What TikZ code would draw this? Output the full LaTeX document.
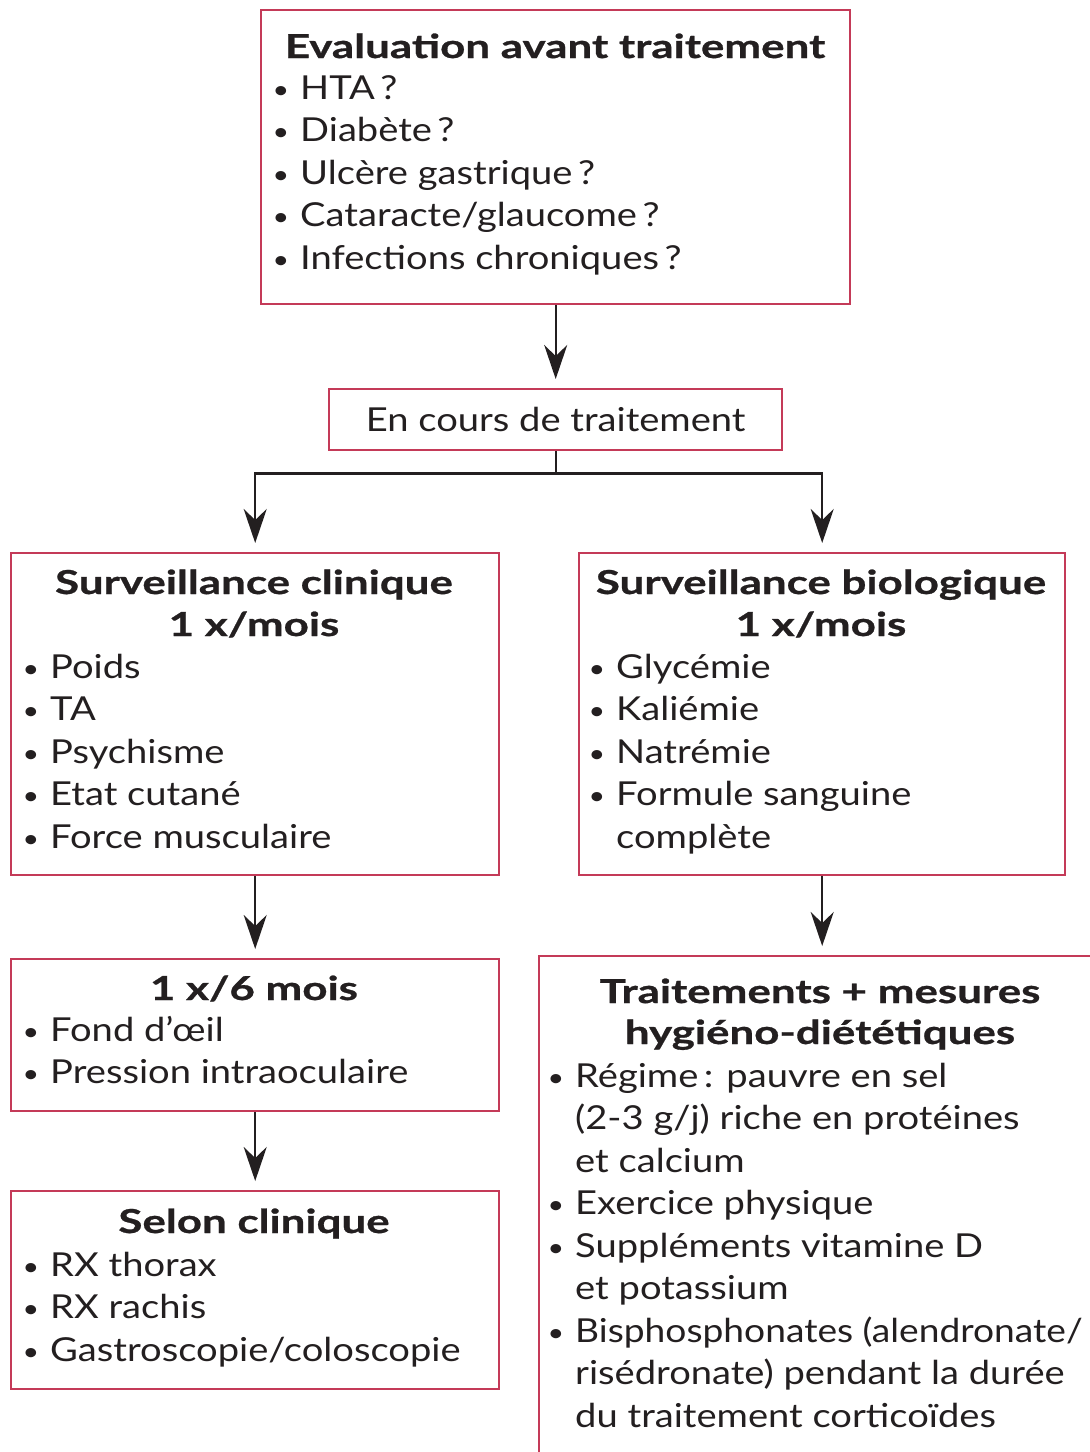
\documentclass[tikz,border=0pt]{standalone}
\usepackage{fontspec}
\setmainfont{Lato}[FakeStretch=1.155,BoldFeatures={FakeStretch=1.33,FakeBold=0.8}]
\usetikzlibrary{arrows.meta,calc}
\definecolor{frame}{RGB}{196,58,88}
\definecolor{ink}{RGB}{35,31,32}
\newcommand\bul{\llap{\raisebox{1pt}{\scalebox{0.75}{•}}\hspace{11pt}}}
\begin{document}
\begin{tikzpicture}[x=1pt,y=-1pt,
  box/.style={draw=frame, line width=2.4pt, rectangle, inner sep=0pt, anchor=north west},
  ttl/.style={anchor=base, inner sep=0pt, font=\fontsize{33}{42}\selectfont\bfseries, text=ink},
  itm/.style={anchor=base west, inner sep=0pt, font=\fontsize{33}{42}\selectfont, text=ink},
  link/.style={line width=2.2pt, draw=ink},
  arr/.style={link, -{Stealth[length=34pt,width=23pt,inset=11pt]}, shorten >=9pt}]
\useasboundingbox (0,0) rectangle (1090,1452);
\fill[white] (0,0) rectangle (1090,1452);
\clip (0,0) rectangle (1090,1452);

% frames
\node[box, minimum width=589, minimum height=294] (eval) at (260,9) {};
\node[box, minimum width=453, minimum height=61, text=ink,
      font=\fontsize{33}{42}\selectfont] (cours) at (328,388) {En cours de traitement};
\node[box, minimum width=488, minimum height=322] (clin) at (10,552) {};
\node[box, minimum width=486, minimum height=322] (bio) at (578,552) {};
\node[box, minimum width=488, minimum height=152] (six) at (10,958) {};
\node[box, minimum width=488, minimum height=198] (selon) at (10,1190) {};
\node[box, minimum width=620, minimum height=560] (trt) at (538,955) {};

% evaluation before treatment
\node[ttl] (evalT) at (555,58) {Evaluation avant traitement};
\foreach \t [count=\i] in {{HTA\,?},{Diabète\,?},{Ulcère gastrique\,?},{Cataracte/glaucome\,?},{Infections chroniques\,?}}
  \node[itm] (evalI\i) at (300,{99+(\i-1)*42.5}) {\bul\t};

% clinical follow-up
\node[ttl] (clinT1) at (254,594) {Surveillance clinique};
\node[ttl] (clinT2) at (254,636) {1 x/mois};
\foreach \t [count=\i] in {Poids,TA,Psychisme,{Etat cutané},{Force musculaire}}
  \node[itm] (clinI\i) at (50,{678+(\i-1)*42.5}) {\bul\t};

% biological follow-up
\node[ttl] (bioT1) at (821,594) {Surveillance biologique};
\node[ttl] (bioT2) at (821,636) {1 x/mois};
\node[itm] (bioI1) at (616,678) {\bul Glycémie};
\node[itm] (bioI2) at (616,720.5) {\bul Kaliémie};
\node[itm] (bioI3) at (616,763) {\bul Natrémie};
\node[itm] (bioI4) at (616,805.5) {\bul Formule sanguine};
\node[itm] (bioI5) at (616,848) {complète};

% every six months
\node[ttl] (sixT) at (254,1000) {1 x/6 mois};
\node[itm] (sixI1) at (50,1041) {\bul Fond d’œil};
\node[itm] (sixI2) at (50,1083.5) {\bul Pression intraoculaire};

% depending on clinical signs
\node[ttl] (selonT) at (254,1233) {Selon clinique};
\foreach \t [count=\i] in {{RX thorax},{RX rachis},{Gastroscopie/coloscopie}}
  \node[itm] (selonI\i) at (50,{1276+(\i-1)*42.5}) {\bul\t};

% treatments and lifestyle measures
\node[ttl] (trtT1) at (820,1003) {Traitements + mesures};
\node[ttl] (trtT2) at (820,1044) {hygiéno-diététiques};
\node[itm] (trtI1) at (575,1087) {\bul Régime\,: pauvre en sel};
\node[itm] (trtI2) at (575,1129.5) {(2-3 g/j) riche en protéines};
\node[itm] (trtI3) at (575,1172) {et calcium};
\node[itm] (trtI4) at (575,1214.5) {\bul Exercice physique};
\node[itm] (trtI5) at (575,1257) {\bul Suppléments vitamine D};
\node[itm] (trtI6) at (575,1299.5) {et potassium};
\node[itm] (trtI7) at (575,1342) {\bul \scalebox{0.975}[1]{Bisphosphonates (alendronate/}};
\node[itm] (trtI8) at (575,1384.5) {risédronate) pendant la durée};
\node[itm] (trtI9) at (575,1427) {du traitement corticoïdes};

% connectors
\draw[arr] (eval.south) -- (cours.north);
\coordinate (split) at ($(cours.south)+(0,22)$);
\draw[link] (cours.south) -- (split);
\draw[arr] (split) -| (clin.north);
\draw[arr] (split) -| (bio.north);
\draw[arr] (clin.south) -- (six.north);
\draw[arr] (six.south) -- (selon.north);
\draw[arr] (bio.south) -- (bio.south |- trt.north);
\end{tikzpicture}
\end{document}
